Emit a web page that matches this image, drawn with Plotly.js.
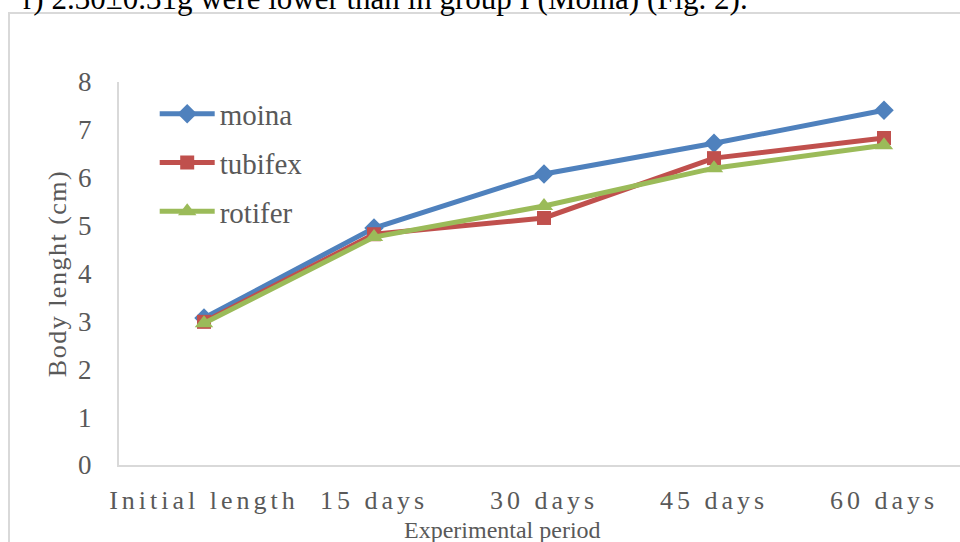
<!DOCTYPE html>
<html>
<head>
<meta charset="utf-8">
<script src="https://cdn.plot.ly/plotly-3.0.1.min.js"></script>
<style>
  html, body { margin: 0; padding: 0; overflow: hidden; background: #fff; }
  #chart { width: 980px; height: 542px; }
  .xtick text { letter-spacing: 4px; }
  .g-ytitle text { letter-spacing: 1.5px; }
</style>
</head>
<body>
<div id="chart"></div>
<script>
const categories = ["Initial length", "15 days", "30 days", "45 days", "60 days"];
const moina   = [3.07, 4.95, 6.08, 6.72, 7.41];
const tubifex = [2.99, 4.82, 5.16, 6.41, 6.83];
const rotifer = [2.96, 4.76, 5.41, 6.20, 6.68];
const seriesNames = ["moina", "tubifex", "rotifer"];
const yTicks = [0, 1, 2, 3, 4, 5, 6, 7, 8];
const topText = "r) 2.30±0.31g were lower than in group I (Moina) (Fig. 2).";

const colors = ["#4F81BD", "#C0504D", "#9BBB59"];
const symbols = ["diamond", "square", "triangle-up"];
const sizes = [15, 14, 16];
const allSeries = [moina, tubifex, rotifer];

const traces = allSeries.map((vals, i) => ({
  type: "scatter",
  mode: "lines+markers",
  name: seriesNames[i],
  legendgroup: seriesNames[i],
  x: categories,
  y: vals,
  line: { color: colors[i], width: 5 },
  marker: { color: colors[i], symbol: symbols[i], size: sizes[i], line: { width: 0 } },
  cliponaxis: false
}));

// plot area in px: x 119..969, y 82..465
const L = 119, R = 969, T = 82, B = 465;
const px = v => (v - L) / (R - L);
const py = v => (B - v) / (B - T);

const layout = {
  width: 980,
  height: 542,
  margin: { l: L, r: 980 - R, t: T, b: 542 - B, pad: 0 },
  paper_bgcolor: "#ffffff",
  plot_bgcolor: "#ffffff",
  font: { family: "Liberation Serif, Times New Roman, serif", color: "#595959" },
  showlegend: true,
  legend: {
    x: 0.042, y: 0.983, xanchor: "left", yanchor: "top",
    bgcolor: "rgba(0,0,0,0)",
    font: { size: 29, color: "#595959" },
    traceorder: "grouped",
    tracegroupgap: 8,
    itemwidth: 55
  },
  xaxis: {
    type: "category",
    range: [-0.5, 4.5],
    showgrid: false,
    zeroline: false,
    showline: true,
    linecolor: "#d9d9d9",
    linewidth: 2,
    ticks: "",
    tickfont: { size: 26, color: "#595959" },
    ticklabelstandoff: 11,
    fixedrange: true
  },
  yaxis: {
    range: [0, 8],
    tickvals: yTicks,
    showgrid: false,
    zeroline: false,
    showline: true,
    linecolor: "#d9d9d9",
    linewidth: 2,
    ticks: "",
    tickfont: { size: 27, color: "#595959" },
    ticklabelstandoff: 20,
    title: { text: "Body lenght (cm)", font: { size: 26, color: "#595959" }, standoff: 4 },
    fixedrange: true
  },
  annotations: [
    {
      xref: "paper", yref: "paper",
      x: px(502), y: py(530),
      xanchor: "center", yanchor: "middle",
      text: "Experimental period",
      showarrow: false,
      font: { size: 24, color: "#595959" }
    },
    {
      xref: "paper", yref: "paper",
      x: px(750), y: py(18),
      xanchor: "right", yanchor: "bottom",
      text: topText,
      showarrow: false,
      font: { size: 31, color: "#000000" }
    }
  ],
  shapes: [
    {
      type: "rect", xref: "paper", yref: "paper",
      x0: px(9), x1: 1.3, y0: py(13), y1: -0.4,
      line: { color: "#d9d9d9", width: 2 },
      fillcolor: "rgba(0,0,0,0)",
      layer: "below"
    }
  ]
};

Plotly.newPlot("chart", traces, layout, { displayModeBar: false, staticPlot: true });
</script>
</body>
</html>
